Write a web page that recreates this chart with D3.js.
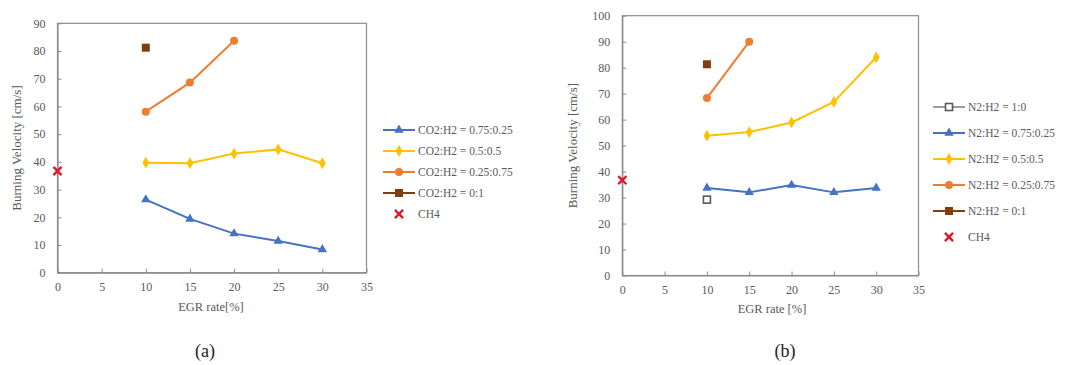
<!DOCTYPE html>
<html>
<head>
<meta charset="utf-8">
<script src="https://cdn.jsdelivr.net/npm/d3@7"></script>
<style>
  html, body { margin: 0; padding: 0; background: #fff; }
  svg text { font-family: "Liberation Serif", "DejaVu Serif", serif; }
</style>
</head>
<body>
<svg id="chart" width="1073" height="365"></svg>
<script>
// EGR rate positions shared by both panels
const egr = [10, 15, 20, 25, 30];
const xTicks = [0, 5, 10, 15, 20, 25, 30, 35];

// Panel (a): CO2 diluted mixtures
const co2_075 = [26.4, 19.4, 14.1, 11.4, 8.4];
const co2_050 = [39.7, 39.5, 43.0, 44.5, 39.5];
const co2_025 = [58.1, 68.6, 83.7];
const co2_000 = [81.2];
const yTicksA = [0, 10, 20, 30, 40, 50, 60, 70, 80, 90];

// Panel (b): N2 diluted mixtures
const n2_100 = [29.2];
const n2_075 = [33.7, 32.0, 34.8, 32.0, 33.7];
const n2_050 = [53.8, 55.2, 58.9, 66.8, 84.0];
const n2_025 = [68.3, 90.0];
const n2_000 = [81.3];
const yTicksB = [0, 10, 20, 30, 40, 50, 60, 70, 80, 90, 100];

// Methane reference at 0 % EGR
const ch4 = 36.7;

const C = {
  blue: "#4472c4", yellow: "#ffc000", orange: "#ed7d31",
  brown: "#843c0c", red: "#e0182c", hollow: "#595959",
  axis: "#8c8c8c", text: "#595959"
};

const svg = d3.select("#chart");

function marker(g, shape, color, x, y) {
  if (shape === "tri") {
    g.append("path").attr("d", d3.symbol(d3.symbolTriangle, 38)())
      .attr("transform", `translate(${x},${y})`).attr("fill", color);
  } else if (shape === "diamond") {
    g.append("path").attr("d", d3.symbol(d3.symbolDiamond, 40)())
      .attr("transform", `translate(${x},${y})`).attr("fill", color);
  } else if (shape === "circle") {
    g.append("circle").attr("cx", x).attr("cy", y).attr("r", 4).attr("fill", color);
  } else if (shape === "square") {
    g.append("rect").attr("x", x - 4).attr("y", y - 4).attr("width", 8).attr("height", 8).attr("fill", color);
  } else if (shape === "hollow") {
    g.append("rect").attr("x", x - 3.5).attr("y", y - 3.5).attr("width", 7).attr("height", 7)
      .attr("fill", "#fff").attr("stroke", color).attr("stroke-width", 1.6);
  } else if (shape === "cross") {
    g.append("path").attr("d", d3.symbol(d3.symbolX, 45)())
      .attr("transform", `translate(${x},${y})`).attr("stroke", color).attr("stroke-width", 2.4).attr("fill", "none");
  }
}

function panel(opt) {
  const x = d3.scaleLinear().domain([0, 35]).range([opt.left, opt.right]);
  const y = d3.scaleLinear().domain([0, opt.yMax]).range([opt.bottom, opt.top]);
  const g = svg.append("g");

  // frame
  g.append("rect").attr("x", opt.left).attr("y", opt.top)
    .attr("width", opt.right - opt.left).attr("height", opt.bottom - opt.top)
    .attr("fill", "none").attr("stroke", C.axis).attr("stroke-width", 1.2);

  // axes with inward ticks
  const ax = g.append("g").attr("transform", `translate(0,${opt.bottom})`)
    .call(d3.axisBottom(x).tickValues(xTicks).tickSizeInner(-4).tickSizeOuter(0).tickPadding(10));
  const ay = g.append("g").attr("transform", `translate(${opt.left},0)`)
    .call(d3.axisLeft(y).tickValues(opt.yTicks).tickSizeInner(-4).tickSizeOuter(0).tickPadding(12));
  [ax, ay].forEach(a => {
    a.select(".domain").attr("stroke", C.axis).attr("stroke-width", 1.2);
    a.selectAll(".tick line").attr("stroke", C.axis);
    a.selectAll(".tick text").attr("fill", C.text).attr("font-size", 12)
      .style("font-family", "'Liberation Serif', serif");
  });

  // axis titles
  g.append("text").attr("x", opt.xLabelX).attr("y", opt.xLabelY).attr("text-anchor", "middle")
    .attr("fill", C.text).attr("font-size", 12.5).text(opt.xLabel);
  g.append("text").attr("transform", `translate(${opt.yLabelX},${(opt.top + opt.bottom) / 2}) rotate(-90)`)
    .attr("text-anchor", "middle").attr("fill", C.text).attr("font-size", 13)
    .text("Burning Velocity [cm/s]");

  // series
  const line = d3.line().x(d => x(d[0])).y(d => y(d[1]));
  opt.series.forEach(s => {
    const pts = s.values.map((v, i) => [s.xs[i], v]);
    if (pts.length > 1) {
      g.append("path").datum(pts).attr("d", line).attr("fill", "none")
        .attr("stroke", s.color).attr("stroke-width", 2);
    }
    pts.forEach(p => marker(g, s.shape, s.color, x(p[0]), y(p[1])));
  });

  // legend
  opt.series.forEach((s, i) => {
    const ly = opt.legendY + i * opt.legendStep;
    const lx = opt.legendX;
    if (s.shape !== "cross") {
      g.append("line").attr("x1", lx).attr("x2", lx + 32).attr("y1", ly).attr("y2", ly)
        .attr("stroke", s.color).attr("stroke-width", s.shape === "hollow" ? 1.2 : 2);
    }
    marker(g, s.shape, s.color, lx + 16, ly);
    g.append("text").attr("x", lx + 35).attr("y", ly + 4).attr("fill", C.text)
      .attr("font-size", 11.5).text(s.name);
  });

  // caption
  svg.append("text").attr("x", opt.captionX).attr("y", 357).attr("text-anchor", "middle")
    .attr("fill", "#222").attr("font-size", 18).text(opt.caption);
}

panel({
  left: 57.5, right: 366.5, top: 23.3, bottom: 272.7, yMax: 90, yTicks: yTicksA,
  xLabel: "EGR rate[%]", xLabelX: 211, xLabelY: 311, yLabelX: 21,
  legendX: 383, legendY: 130, legendStep: 21, caption: "(a)", captionX: 205,
  series: [
    { name: "CO2:H2 = 0.75:0.25", xs: egr, values: co2_075, color: C.blue, shape: "tri" },
    { name: "CO2:H2 = 0.5:0.5", xs: egr, values: co2_050, color: C.yellow, shape: "diamond" },
    { name: "CO2:H2 = 0.25:0.75", xs: egr, values: co2_025, color: C.orange, shape: "circle" },
    { name: "CO2:H2 = 0:1", xs: [10], values: co2_000, color: C.brown, shape: "square" },
    { name: "CH4", xs: [0], values: [ch4], color: C.red, shape: "cross" }
  ]
});

panel({
  left: 622.3, right: 918.5, top: 15.7, bottom: 275.5, yMax: 100, yTicks: yTicksB,
  xLabel: "EGR rate [%]", xLabelX: 772, xLabelY: 313, yLabelX: 577,
  legendX: 933, legendY: 107, legendStep: 26, caption: "(b)", captionX: 785,
  series: [
    { name: "N2:H2 = 1:0", xs: [10], values: n2_100, color: C.hollow, shape: "hollow" },
    { name: "N2:H2 = 0.75:0.25", xs: egr, values: n2_075, color: C.blue, shape: "tri" },
    { name: "N2:H2 = 0.5:0.5", xs: egr, values: n2_050, color: C.yellow, shape: "diamond" },
    { name: "N2:H2 = 0.25:0.75", xs: [10, 15], values: n2_025, color: C.orange, shape: "circle" },
    { name: "N2:H2 = 0:1", xs: [10], values: n2_000, color: C.brown, shape: "square" },
    { name: "CH4", xs: [0], values: [ch4], color: C.red, shape: "cross" }
  ]
});
</script>
</body>
</html>
